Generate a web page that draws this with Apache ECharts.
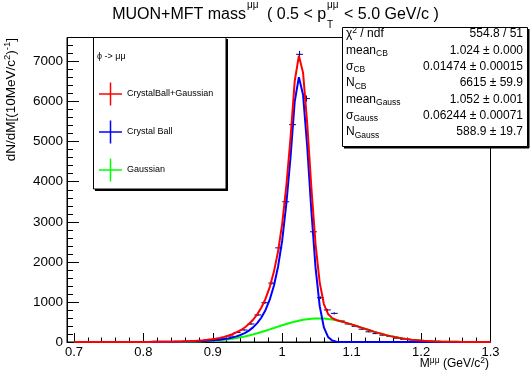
<!DOCTYPE html>
<html><head><meta charset="utf-8">
<script src="https://cdn.jsdelivr.net/npm/echarts@6/dist/echarts.min.js"></script>
<style>html,body{margin:0;padding:0;background:#fff}#c{width:532px;height:374px}</style>
</head><body><div id="c"></div>
<script>
// ---- data ----
const binCenters = [0.895,0.905,0.915,0.925,0.935,0.945,0.955,0.965,0.975,0.985,0.995,1.005,1.015,1.025,1.035,1.045,1.055,1.065,1.075,1.085,1.095,1.105,1.115,1.125,1.135,1.145,1.155,1.165,1.175,1.185,1.195,1.205,1.215,1.225];
const binCounts  = [40,60,95,150,240,300,450,675,980,1470,2350,3500,5425,7180,6075,2750,1105,800,715,525,450,390,320,255,210,170,140,95,65,55,45,35,25,12];
const binWidth = 0.01;

const curveMass = [0.700,0.706,0.712,0.718,0.724,0.730,0.736,0.742,0.748,0.754,
0.760,0.766,0.772,0.778,0.784,0.790,0.796,0.802,0.808,0.814,
0.820,0.826,0.832,0.838,0.844,0.850,0.856,0.862,0.868,0.874,
0.880,0.886,0.892,0.898,0.904,0.910,0.916,0.922,0.928,0.934,
0.940,0.946,0.952,0.958,0.964,0.970,0.976,0.982,0.988,0.994,
1.000,1.006,1.012,1.018,1.024,1.030,1.036,1.042,1.048,1.054,
1.060,1.066,1.072,1.078,1.084,1.090,1.096,1.102,1.108,1.114,
1.120,1.126,1.132,1.138,1.144,1.150,1.156,1.162,1.168,1.174,
1.180,1.186,1.192,1.198,1.204,1.210,1.216,1.222,1.228,1.234,
1.240,1.246,1.252,1.258,1.264,1.270,1.276,1.282,1.288,1.294,1.300];

const cbCurve = [0.2,0.3,0.3,0.3,0.4,0.4,0.5,0.6,0.7,0.8,
0.9,1.0,1.1,1.3,1.5,1.8,2.0,2.4,2.8,3.2,
3.8,4.5,5.2,6.2,7.3,8.7,10.4,12.4,14.8,17.9,
21.5,26.1,31.7,38.7,47.4,58.3,72.1,89.5,111.6,139.9,
176.4,223.4,284.8,365.4,471.6,612,801,1056,1403,1880,
2540,3463,4620,6002,6611,6170,4879,3269,1855,894,
364,126,36.8,9.1,1.9,0.3,0,0,0,0,
0,0,0,0,0,0,0,0,0,0,
0,0,0,0,0,0,0,0,0,0,
0,0,0,0,0,0,0,0,0,0,0];

const gaussCurve = [0,0,0,0,0,0,0,0,0,0,
0,0,0,0,0,0.1,0.1,0.2,0.3,0.4,
0.6,0.8,1.2,1.7,2.3,3.1,4.3,5.8,7.7,10.1,
13.3,17.2,22.1,28.1,35.5,44.3,54.9,67.4,82.0,98.7,
117.8,139.4,163.4,189.6,218.1,248.6,280.8,314.2,348.3,382.6,
416.4,448.9,479.7,507.8,532.6,553.5,569.9,581.4,587.7,588.6,
584.1,574.3,559.5,540.0,516.5,489.3,459.4,427.4,393.9,359.7,
325.5,291.8,259.2,228.1,198.9,171.8,147.1,124.8,104.8,87.3,
72.0,58.9,47.7,38.3,30.4,24.0,18.7,14.5,11.1,8.4,
6.3,4.7,3.5,2.5,1.8,1.3,0.9,0.7,0.5,0.3,0.2];

const totalCurve = [0.2,0.3,0.3,0.3,0.4,0.4,0.5,0.6,0.7,0.8,
0.9,1.0,1.1,1.3,1.5,1.9,2.1,2.6,3.1,3.6,
4.4,5.3,6.4,7.9,9.6,11.8,14.7,18.2,22.5,28.0,
34.8,43.3,53.8,66.8,82.9,102.6,127.0,156.9,193.6,238.6,
294.2,362.8,448.2,555.0,689.7,860.6,1081.8,1370.2,1751.3,2262.6,
2956.4,3911.9,5099.7,6509.8,7143.6,6723.5,5448.9,3850.4,2442.7,1482.6,
948.1,700.3,596.3,549.1,518.4,489.6,459.4,427.4,393.9,359.7,
325.5,291.8,259.2,228.1,198.9,171.8,147.1,124.8,104.8,87.3,
72.0,58.9,47.7,38.3,30.4,24.0,18.7,14.5,11.1,8.4,
6.3,4.7,3.5,2.5,1.8,1.3,0.9,0.7,0.5,0.3,0.2];

const xMajorTicks = [0.7,0.8,0.9,1.0,1.1,1.2,1.3];
const xMinorTicks = [0.72,0.74,0.76,0.78,0.82,0.84,0.86,0.88,0.92,0.94,0.96,0.98,1.02,1.04,1.06,1.08,1.12,1.14,1.16,1.18,1.22,1.24,1.26,1.28];
const yMajorTicks = [0,1000,2000,3000,4000,5000,6000,7000];
const yMinorTicks = [200,400,600,800,1200,1400,1600,1800,2200,2400,2600,2800,3200,3400,3600,3800,4200,4400,4600,4800,5200,5400,5600,5800,6200,6400,6600,6800,7200,7400];
const xRange = [0.69, 1.3];
const yRange = [0, 7600];

const statLabels = ['{b|χ}{sup|2}{b| / ndf}','{b|mean}{sub|CB}','{b|σ}{sub|CB}','{b|N}{sub|CB}','{b|mean}{sub|Gauss}','{b|σ}{sub|Gauss}','{b|N}{sub|Gauss}'];
const statValues = ['554.8 / 51','1.024 ± 0.000','0.01474 ± 0.00015','6615 ± 59.9','1.052 ± 0.001','0.06244 ± 0.00071','588.9 ± 19.7'];
const legendHeader = 'ϕ -> μμ';
const legendNames = ['CrystalBall+Gaussian','Crystal Ball','Gaussian'];
const yTitle = '{t|dN/dM[(10MeV/c}{tsup|2}{t|)}{tsup|-1}{t|]}';
const xTitle = '{b|M}{sup|μμ}{b| (GeV/c}{sup|2}{b|)}';

// ---- styling ----
const FONT = '"Liberation Sans", Arial, Helvetica, sans-serif';
const RED = '#ff0000', BLUE = '#0000ff', GREEN = '#00ff00', PT = '#000090';

const pts = (ys) => curveMass.map((m, i) => [m, ys[i]]);
const pointData = binCenters.map((c, i) => [c, binCounts[i], Math.sqrt(binCounts[i])]);

function renderErr(params, api) {
  const c = api.value(0), v = api.value(1), e = api.value(2);
  const a = api.coord([c - binWidth / 2, v]), b = api.coord([c + binWidth / 2, v]);
  const u = api.coord([c, v + e]), d = api.coord([c, v - e]);
  const st = { stroke: PT, lineWidth: 1 };
  return { type: 'group', children: [
    { type: 'line', shape: { x1: a[0], y1: a[1], x2: b[0], y2: b[1] }, style: st },
    { type: 'line', shape: { x1: u[0], y1: u[1], x2: d[0], y2: d[1] }, style: st }
  ]};
}

const rich = {
  b: { fontSize: 12, fontFamily: FONT, lineHeight: 16, fill: '#000' },
  sub: { fontSize: 8.5, fontFamily: FONT, lineHeight: 8, verticalAlign: 'bottom', fill: '#000' },
  sup: { fontSize: 8.5, fontFamily: FONT, lineHeight: 8, verticalAlign: 'top', fill: '#000' },
  t: { fontSize: 13.5, fontFamily: FONT, lineHeight: 18, fill: '#000' },
  tsup: { fontSize: 9.5, fontFamily: FONT, lineHeight: 9, verticalAlign: 'top', fill: '#000' }
};

const graphics = [];
// Title
const tY = 14.5;
graphics.push({ type: 'text', x: 246, y: tY, style: { text: 'MUON+MFT mass', fontSize: 16, fontFamily: FONT, fill: '#000', align: 'right', verticalAlign: 'middle' } });
graphics.push({ type: 'text', x: 247, y: 5, style: { text: 'μμ', fontSize: 10, fontFamily: FONT, fill: '#000', align: 'left', verticalAlign: 'middle' } });
graphics.push({ type: 'text', x: 267, y: tY, style: { text: '( 0.5 < p', fontSize: 16, fontFamily: FONT, fill: '#000', align: 'left', verticalAlign: 'middle' } });
graphics.push({ type: 'text', x: 327, y: 5, style: { text: 'μμ', fontSize: 10, fontFamily: FONT, fill: '#000', align: 'left', verticalAlign: 'middle' } });
graphics.push({ type: 'text', x: 327, y: 25, style: { text: 'T', fontSize: 10, fontFamily: FONT, fill: '#000', align: 'left', verticalAlign: 'middle' } });
graphics.push({ type: 'text', x: 344, y: tY, style: { text: '< 5.0 GeV/c )', fontSize: 16, fontFamily: FONT, fill: '#000', align: 'left', verticalAlign: 'middle' } });

// Axis titles
graphics.push({ type: 'text', x: 11, y: 38, rotation: Math.PI / 2, style: { text: yTitle, rich: rich, align: 'right', verticalAlign: 'middle' } });
graphics.push({ type: 'text', x: 489, y: 364, style: { text: xTitle, rich: rich, align: 'right', verticalAlign: 'middle' } });

// Legend box
graphics.push({ type: 'line', shape: { x1: 95, y1: 190, x2: 228, y2: 190 }, style: { stroke: '#000', lineWidth: 2 } });
graphics.push({ type: 'line', shape: { x1: 227, y1: 39, x2: 227, y2: 191 }, style: { stroke: '#000', lineWidth: 2 } });
graphics.push({ type: 'rect', shape: { x: 93.5, y: 37.5, width: 132.5, height: 151.5 }, style: { fill: '#fff', stroke: '#000', lineWidth: 1 } });
graphics.push({ type: 'text', x: 97, y: 57, style: { text: legendHeader, fontSize: 9, fontFamily: FONT, fill: '#000', align: 'left', verticalAlign: 'middle' } });
[[RED, 94], [BLUE, 132], [GREEN, 170]].forEach(([col, yy], i) => {
  graphics.push({ type: 'line', shape: { x1: 99, y1: yy, x2: 122, y2: yy }, style: { stroke: col, lineWidth: 1.5 } });
  graphics.push({ type: 'line', shape: { x1: 110.5, y1: yy - 11.5, x2: 110.5, y2: yy + 11.5 }, style: { stroke: col, lineWidth: 1.5 } });
  graphics.push({ type: 'text', x: 127, y: yy, style: { text: legendNames[i], fontSize: 9, fontFamily: FONT, fill: '#000', align: 'left', verticalAlign: 'middle' } });
});

// Stats box
graphics.push({ type: 'line', shape: { x1: 344, y1: 147.5, x2: 529, y2: 147.5 }, style: { stroke: '#000', lineWidth: 2 } });
graphics.push({ type: 'line', shape: { x1: 528.5, y1: 29, x2: 528.5, y2: 148 }, style: { stroke: '#000', lineWidth: 2 } });
graphics.push({ type: 'rect', shape: { x: 342.5, y: 27.5, width: 185, height: 119 }, style: { fill: '#fff', stroke: '#000', lineWidth: 1 } });
statLabels.forEach((lab, i) => {
  const yy = 34 + 16.3 * i;
  graphics.push({ type: 'text', x: 346, y: yy, style: { text: lab, rich: rich, align: 'left', verticalAlign: 'middle' } });
  graphics.push({ type: 'text', x: 523, y: yy, style: { text: statValues[i], fontSize: 12, fontFamily: FONT, fill: '#000', align: 'right', verticalAlign: 'middle' } });
});

const chart = echarts.init(document.getElementById('c'), null, { renderer: 'canvas' });
chart.setOption({
  animation: false,
  backgroundColor: '#fff',
  grid: { left: 67, right: 41.5, top: 37.5, bottom: 32, show: true, borderColor: '#000', borderWidth: 1, backgroundColor: 'transparent' },
  xAxis: [{
    type: 'value', min: xRange[0], max: xRange[1],
    axisLine: { show: true, onZero: false, lineStyle: { color: '#000', width: 1 } },
    axisTick: { show: true, inside: true, length: 9, customValues: xMajorTicks, lineStyle: { color: '#000' } },
    axisLabel: { show: true, customValues: xMajorTicks, fontSize: 13, fontFamily: FONT, color: '#000', margin: 4,
      formatter: v => String(+(+v).toFixed(1)) },
    splitLine: { show: false }
  }, {
    type: 'value', min: xRange[0], max: xRange[1], position: 'bottom',
    axisLine: { show: false },
    axisTick: { show: true, inside: true, length: 4.5, customValues: xMinorTicks, lineStyle: { color: '#000' } },
    axisLabel: { show: false, customValues: xMinorTicks },
    splitLine: { show: false }
  }],
  yAxis: [{
    type: 'value', min: yRange[0], max: yRange[1],
    axisLine: { show: true, onZero: false, lineStyle: { color: '#000', width: 1 } },
    axisTick: { show: true, inside: true, length: 12, customValues: yMajorTicks, lineStyle: { color: '#000' } },
    axisLabel: { show: true, customValues: yMajorTicks, fontSize: 13.5, fontFamily: FONT, color: '#000', margin: 4,
      formatter: v => String(Math.round(v)) },
    splitLine: { show: false }
  }, {
    type: 'value', min: yRange[0], max: yRange[1], position: 'left',
    axisLine: { show: false },
    axisTick: { show: true, inside: true, length: 6, customValues: yMinorTicks, lineStyle: { color: '#000' } },
    axisLabel: { show: false, customValues: yMinorTicks },
    splitLine: { show: false }
  }],
  series: [
    { type: 'custom', name: 'data', renderItem: renderErr, data: pointData, encode: { x: 0, y: 1 }, z: 2, clip: true },
    { type: 'line', name: 'Gaussian', data: pts(gaussCurve), showSymbol: false, lineStyle: { color: GREEN, width: 2 }, z: 3, clip: true },
    { type: 'line', name: 'Crystal Ball', data: pts(cbCurve), showSymbol: false, lineStyle: { color: BLUE, width: 2 }, z: 4, clip: true },
    { type: 'line', name: 'CrystalBall+Gaussian', data: pts(totalCurve), showSymbol: false, lineStyle: { color: RED, width: 2 }, z: 5, clip: true }
  ],
  graphic: graphics
});
</script>
</body></html>
